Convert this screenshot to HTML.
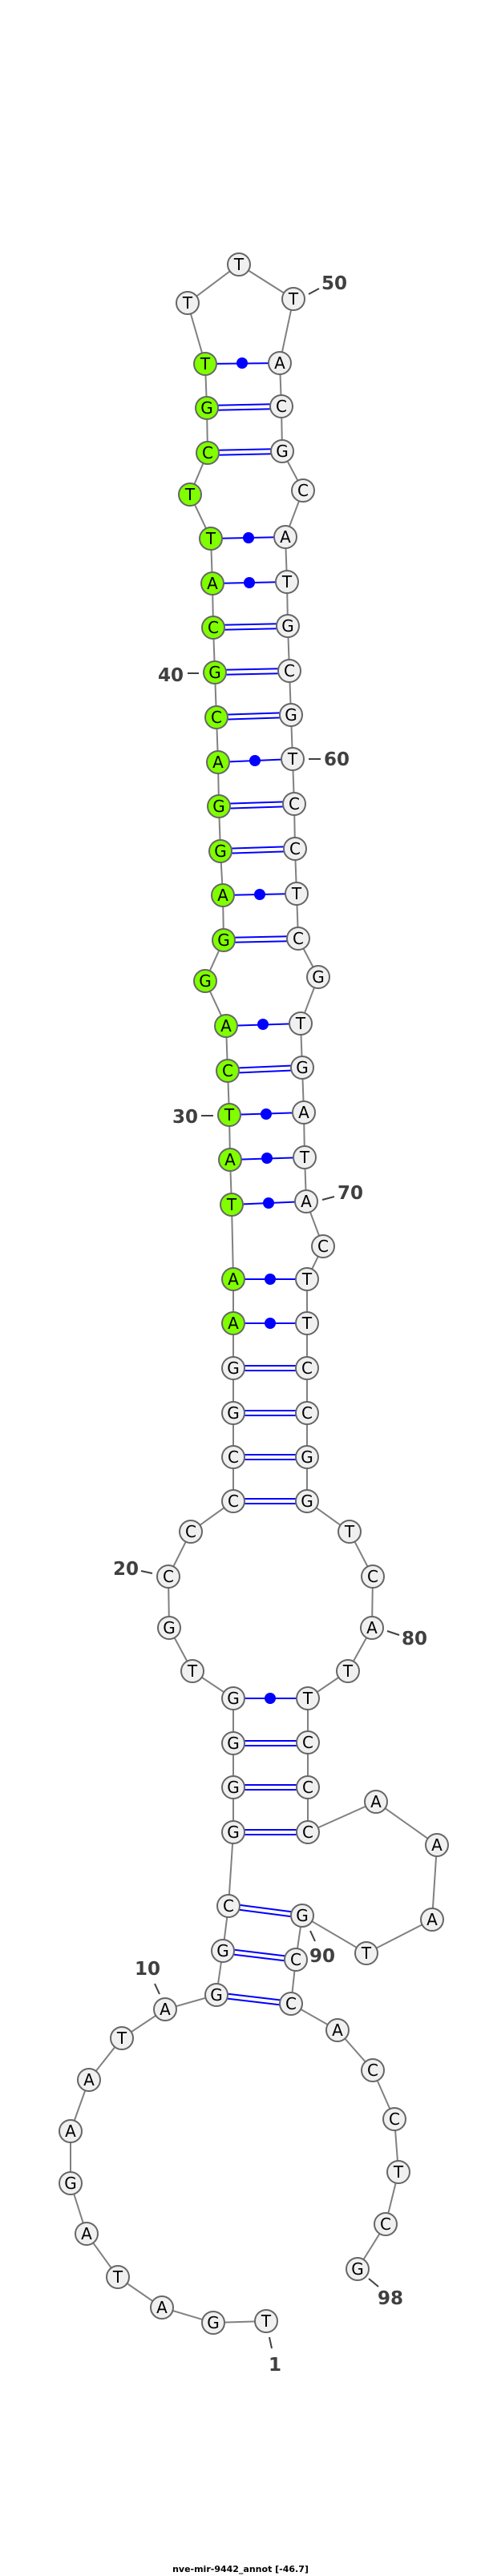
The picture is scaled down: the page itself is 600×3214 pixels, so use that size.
<!DOCTYPE html>
<html><head><meta charset="utf-8"><style>html,body{margin:0;padding:0;background:#fff}svg{display:block}</style></head>
<body>
<svg width="600" height="3214" viewBox="0 0 600 3214" xmlns="http://www.w3.org/2000/svg">
<rect width="600" height="3214" fill="#fff"/>
<polyline fill="none" stroke="#808080" stroke-width="2" points="332,2896 266,2898 202,2879 147,2841 108,2787 88,2724 88,2659 111,2595 152,2543 206,2507 270,2489 278,2434 285,2378 291,2286 291,2230 291,2175 291,2119 240,2085 211,2031 210,1967 238,1911 291,1873 291,1818 291,1763 291,1707 291,1651 291,1596 289,1503 287,1447 286,1391 284,1336 282,1280 256,1224 279,1173 278,1117 275,1062 273,1006 272,951 270,895 268,839 266,783 265,728 263,672 237,617 259,565 258,509 256,454 234,378 298,330 366,373 349,453 351,507 352,563 378,612 356,670 358,726 359,781 361,837 363,892 365,947 367,1003 368,1059 370,1115 372,1171 397,1219 375,1277 377,1332 379,1388 380,1444 382,1499 403,1555 383,1596 383,1651 383,1707 383,1763 383,1818 383,1873 436,1911 465,1967 464,2031 434,2085 384,2119 384,2174 384,2230 384,2286 469,2248 545,2302 539,2395 457,2437 377,2390 369,2445 363,2500 421,2533 465,2583 492,2644 497,2710 481,2775 446,2831"/>
<g stroke="#0000ff" stroke-width="2" fill="none">
<path d="M270,2486L363,2497M270,2492L363,2503M278,2431L369,2442M278,2437L369,2448M285,2375L377,2387M285,2381L377,2393"/>
<path d="M291,2283H384M291,2289H384M291,2227H384M291,2233H384M291,2172H384M291,2178H384"/>
<path d="M291,1870H383M291,1876H383M291,1815H383M291,1821H383M291,1760H383M291,1766H383M291,1704H383M291,1710H383"/>
<path d="M284,1333L377,1329M284,1339L377,1335M279,1170L372,1168M279,1176L372,1174M275,1059L368,1056M275,1065L368,1062M273,1003L367,1000M273,1009L367,1006"/>
<path d="M270,892L363,889M270,898L363,895M268,836L361,834M268,842L361,840M266,780L359,778M266,786L359,784M259,562L352,560M259,568L352,566M258,506L351,504M258,512L351,510"/>
<path d="M291,2119H384M291,1651H383M291,1596H383M289,1503L382,1499M287,1447L380,1444M286,1391L379,1388M282,1280L375,1277M278,1117L370,1115M272,951L365,947M265,728L358,726M263,672L356,670M256,454L349,453"/>
</g>
<g fill="#0000ff">
<circle cx="337" cy="2119" r="7"/><circle cx="337" cy="1651" r="7"/><circle cx="337" cy="1596" r="7"/><circle cx="335" cy="1501" r="7"/><circle cx="333" cy="1445" r="7"/><circle cx="332" cy="1390" r="7"/><circle cx="328" cy="1278" r="7"/><circle cx="324" cy="1116" r="7"/><circle cx="318" cy="949" r="7"/><circle cx="311" cy="727" r="7"/><circle cx="310" cy="671" r="7"/><circle cx="302" cy="453" r="7"/>
</g>
<g stroke="#666" stroke-width="2" fill="#f0f0f0">
<circle cx="332" cy="2896" r="14"/><circle cx="266" cy="2898" r="14"/><circle cx="202" cy="2879" r="14"/><circle cx="147" cy="2841" r="14"/><circle cx="108" cy="2787" r="14"/><circle cx="88" cy="2724" r="14"/><circle cx="88" cy="2659" r="14"/><circle cx="111" cy="2595" r="14"/><circle cx="152" cy="2543" r="14"/><circle cx="206" cy="2507" r="14"/><circle cx="270" cy="2489" r="14"/><circle cx="278" cy="2434" r="14"/><circle cx="285" cy="2378" r="14"/><circle cx="291" cy="2286" r="14"/><circle cx="291" cy="2230" r="14"/><circle cx="291" cy="2175" r="14"/><circle cx="291" cy="2119" r="14"/><circle cx="240" cy="2085" r="14"/><circle cx="211" cy="2031" r="14"/><circle cx="210" cy="1967" r="14"/><circle cx="238" cy="1911" r="14"/><circle cx="291" cy="1873" r="14"/><circle cx="291" cy="1818" r="14"/><circle cx="291" cy="1763" r="14"/><circle cx="291" cy="1707" r="14"/>
<circle cx="298" cy="330" r="14"/><circle cx="234" cy="378" r="14"/><circle cx="366" cy="373" r="14"/><circle cx="349" cy="453" r="14"/><circle cx="351" cy="507" r="14"/><circle cx="352" cy="563" r="14"/><circle cx="378" cy="612" r="14"/><circle cx="356" cy="670" r="14"/><circle cx="358" cy="726" r="14"/><circle cx="359" cy="781" r="14"/><circle cx="361" cy="837" r="14"/><circle cx="363" cy="892" r="14"/><circle cx="365" cy="947" r="14"/><circle cx="367" cy="1003" r="14"/><circle cx="368" cy="1059" r="14"/><circle cx="370" cy="1115" r="14"/><circle cx="372" cy="1171" r="14"/><circle cx="397" cy="1219" r="14"/><circle cx="375" cy="1277" r="14"/><circle cx="377" cy="1332" r="14"/><circle cx="379" cy="1388" r="14"/><circle cx="380" cy="1444" r="14"/><circle cx="382" cy="1499" r="14"/><circle cx="403" cy="1555" r="14"/><circle cx="383" cy="1596" r="14"/><circle cx="383" cy="1651" r="14"/><circle cx="383" cy="1707" r="14"/><circle cx="383" cy="1763" r="14"/><circle cx="383" cy="1818" r="14"/><circle cx="383" cy="1873" r="14"/><circle cx="436" cy="1911" r="14"/><circle cx="465" cy="1967" r="14"/><circle cx="464" cy="2031" r="14"/><circle cx="434" cy="2085" r="14"/><circle cx="384" cy="2119" r="14"/><circle cx="384" cy="2174" r="14"/><circle cx="384" cy="2230" r="14"/><circle cx="384" cy="2286" r="14"/><circle cx="469" cy="2248" r="14"/><circle cx="545" cy="2302" r="14"/><circle cx="539" cy="2395" r="14"/><circle cx="457" cy="2437" r="14"/><circle cx="377" cy="2390" r="14"/><circle cx="369" cy="2445" r="14"/><circle cx="363" cy="2500" r="14"/><circle cx="421" cy="2533" r="14"/><circle cx="465" cy="2583" r="14"/><circle cx="492" cy="2644" r="14"/><circle cx="497" cy="2710" r="14"/><circle cx="481" cy="2775" r="14"/><circle cx="446" cy="2831" r="14"/>
</g>
<g stroke="#666" stroke-width="2" fill="#80ff00">
<circle cx="291" cy="1651" r="14"/><circle cx="291" cy="1596" r="14"/><circle cx="289" cy="1503" r="14"/><circle cx="287" cy="1447" r="14"/><circle cx="286" cy="1391" r="14"/><circle cx="284" cy="1336" r="14"/><circle cx="282" cy="1280" r="14"/><circle cx="256" cy="1224" r="14"/><circle cx="279" cy="1173" r="14"/><circle cx="278" cy="1117" r="14"/><circle cx="275" cy="1062" r="14"/><circle cx="273" cy="1006" r="14"/><circle cx="272" cy="951" r="14"/><circle cx="270" cy="895" r="14"/><circle cx="268" cy="839" r="14"/><circle cx="266" cy="783" r="14"/><circle cx="265" cy="728" r="14"/><circle cx="263" cy="672" r="14"/><circle cx="237" cy="617" r="14"/><circle cx="259" cy="565" r="14"/><circle cx="258" cy="509" r="14"/><circle cx="256" cy="454" r="14"/>
</g>
<g font-family="'DejaVu Sans','Liberation Sans',sans-serif" font-size="20" text-anchor="middle" fill="#000">
<text x="332" y="2903">T</text><text x="266" y="2905">G</text><text x="202" y="2886">A</text><text x="147" y="2848">T</text><text x="108" y="2794">A</text><text x="88" y="2731">G</text><text x="88" y="2666">A</text><text x="111" y="2602">A</text><text x="152" y="2550">T</text><text x="206" y="2514">A</text><text x="270" y="2496">G</text><text x="278" y="2441">G</text><text x="285" y="2385">C</text><text x="291" y="2293">G</text><text x="291" y="2237">G</text><text x="291" y="2182">G</text><text x="291" y="2126">G</text><text x="240" y="2092">T</text><text x="211" y="2038">G</text><text x="210" y="1974">C</text><text x="238" y="1918">C</text><text x="291" y="1880">C</text><text x="291" y="1825">C</text><text x="291" y="1770">G</text><text x="291" y="1714">G</text><text x="291" y="1658">A</text><text x="291" y="1603">A</text><text x="289" y="1510">T</text><text x="287" y="1454">A</text><text x="286" y="1398">T</text><text x="284" y="1343">C</text><text x="282" y="1287">A</text><text x="256" y="1231">G</text><text x="279" y="1180">G</text><text x="278" y="1124">A</text><text x="275" y="1069">G</text><text x="273" y="1013">G</text><text x="272" y="958">A</text><text x="270" y="902">C</text><text x="268" y="846">G</text><text x="266" y="790">C</text><text x="265" y="735">A</text><text x="263" y="679">T</text><text x="237" y="624">T</text><text x="259" y="572">C</text><text x="258" y="516">G</text><text x="256" y="461">T</text><text x="234" y="385">T</text><text x="298" y="337">T</text><text x="366" y="380">T</text><text x="349" y="460">A</text><text x="351" y="514">C</text><text x="352" y="570">G</text><text x="378" y="619">C</text><text x="356" y="677">A</text><text x="358" y="733">T</text><text x="359" y="788">G</text><text x="361" y="844">C</text><text x="363" y="899">G</text><text x="365" y="954">T</text><text x="367" y="1010">C</text><text x="368" y="1066">C</text><text x="370" y="1122">T</text><text x="372" y="1178">C</text><text x="397" y="1226">G</text><text x="375" y="1284">T</text><text x="377" y="1339">G</text><text x="379" y="1395">A</text><text x="380" y="1451">T</text><text x="382" y="1506">A</text><text x="403" y="1562">C</text><text x="383" y="1603">T</text><text x="383" y="1658">T</text><text x="383" y="1714">C</text><text x="383" y="1770">C</text><text x="383" y="1825">G</text><text x="383" y="1880">G</text><text x="436" y="1918">T</text><text x="465" y="1974">C</text><text x="464" y="2038">A</text><text x="434" y="2092">T</text><text x="384" y="2126">T</text><text x="384" y="2181">C</text><text x="384" y="2237">C</text><text x="384" y="2293">C</text><text x="469" y="2255">A</text><text x="545" y="2309">A</text><text x="539" y="2402">A</text><text x="457" y="2444">T</text><text x="377" y="2397">G</text><text x="369" y="2452">C</text><text x="363" y="2507">C</text><text x="421" y="2540">A</text><text x="465" y="2590">C</text><text x="492" y="2651">C</text><text x="497" y="2717">T</text><text x="481" y="2782">C</text><text x="446" y="2838">G</text>
</g>
<g stroke="#404040" stroke-width="2">
<path d="M385,367L398,360M234,840H248M385,947H400M251,1392H266M402,1497L417,1493M176,1960L190,1963M483,2035L498,2040M193,2475L199,2488M387,2409L393,2422M460,2843L472,2853M336,2916L339,2930"/>
</g>
<g font-family="'DejaVu Sans','Liberation Sans',sans-serif" font-size="23" font-weight="bold" text-anchor="middle" fill="#404040">
<text x="417" y="361">50</text><text x="213" y="850">40</text><text x="420" y="955">60</text><text x="231" y="1401">30</text><text x="437" y="1496">70</text><text x="157" y="1965">20</text><text x="517" y="2052">80</text><text x="184" y="2464">10</text><text x="402" y="2448">90</text><text x="487" y="2875">98</text><text x="343" y="2958">1</text>
</g>
<text x="300" y="3209" font-family="'DejaVu Sans','Liberation Sans',sans-serif" font-size="11" font-weight="bold" text-anchor="middle" fill="#000">nve-mir-9442_annot [-46.7]</text>
</svg>
</body></html>
